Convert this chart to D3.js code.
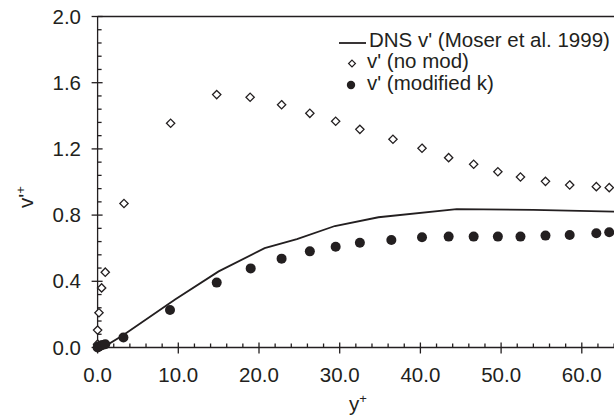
<!DOCTYPE html>
<html>
<head>
<meta charset="utf-8">
<script src="https://cdn.jsdelivr.net/npm/d3@7"></script>
<style>
  body { margin: 0; background: #fff; }
  svg { display: block; font-family: Arial, 'Liberation Sans', sans-serif; }
</style>
</head>
<body>
<svg width="614" height="420"></svg>
<script>
// DNS v' (Moser et al. 1999)
var dnsX = [0, 1.0, 3.2, 9.6, 15.0, 20.7, 24.7, 29.4, 34.8, 44.5, 54.0, 65.0];
var dnsV = [0, 0.01, 0.075, 0.29, 0.46, 0.60, 0.655, 0.734, 0.787, 0.836, 0.831, 0.82];

// v' (no mod)
var noModX = [0.0, 0.0, 0.17, 0.5, 0.95, 3.27, 9.05, 14.76, 18.9, 22.8, 26.3, 29.5, 32.5, 36.6, 40.2, 43.5, 46.6, 49.6, 52.4, 55.5, 58.5, 61.8, 63.4];
var noModV = [0.02, 0.105, 0.21, 0.36, 0.455, 0.87, 1.355, 1.528, 1.512, 1.467, 1.415, 1.367, 1.318, 1.258, 1.204, 1.147, 1.107, 1.062, 1.03, 1.004, 0.982, 0.972, 0.966];

// v' (modified k)
var modX = [0.0, 0.1, 0.3, 0.6, 0.95, 3.2, 8.97, 14.76, 18.97, 22.8, 26.3, 29.5, 32.5, 36.4, 40.2, 43.5, 46.6, 49.6, 52.4, 55.5, 58.5, 61.8, 63.4];
var modV = [0.0, 0.005, 0.01, 0.015, 0.02, 0.06, 0.227, 0.392, 0.478, 0.537, 0.581, 0.609, 0.633, 0.65, 0.666, 0.67, 0.67, 0.67, 0.67, 0.676, 0.68, 0.69, 0.696];

var xMajor = [0, 10, 20, 30, 40, 50, 60, 70];
var xLabels = [0, 10, 20, 30, 40, 50, 60];
var yMajor = [0, 0.4, 0.8, 1.2, 1.6, 2.0];

var legendLabels = ["DNS v' (Moser et al. 1999)", "v' (no mod)", "v' (modified k)"];

var ink = '#231f20';
var fontSize = 20.5;

var svg = d3.select('svg');

var x = d3.scaleLinear().domain([0, 70]).range([97.6, 662.5]);
var y = d3.scaleLinear().domain([0, 2]).range([347.5, 16.5]);
var fmt = d3.format('.1f');

// minor ticks
var xMinor = d3.range(0, 70.01, 2).filter(function(d) { return d % 10 !== 0; });
var yMinor = d3.range(0, 2.001, 0.08).filter(function(d) {
    return Math.abs(d / 0.4 - Math.round(d / 0.4)) > 1e-6;
});

var axes = svg.append('g').attr('stroke', ink).attr('stroke-width', 1.3);

// frame top + axis lines
axes.append('line')
    .attr('x1', x(0)).attr('x2', x(70))
    .attr('y1', y(2)).attr('y2', y(2));
axes.append('line')
    .attr('x1', x(0)).attr('x2', x(70))
    .attr('y1', y(0)).attr('y2', y(0));
axes.append('line')
    .attr('x1', x(0)).attr('x2', x(0))
    .attr('y1', y(0)).attr('y2', y(2));

axes.selectAll('.xmaj').data(xMajor).enter().append('line')
    .attr('x1', function(d) { return x(d); }).attr('x2', function(d) { return x(d); })
    .attr('y1', y(0) - 5).attr('y2', y(0) + 6);
axes.selectAll('.xmin').data(xMinor).enter().append('line')
    .attr('x1', function(d) { return x(d); }).attr('x2', function(d) { return x(d); })
    .attr('y1', y(0) - 4).attr('y2', y(0));
axes.selectAll('.ymaj').data(yMajor).enter().append('line')
    .attr('x1', x(0) - 6).attr('x2', x(0) + 5)
    .attr('y1', function(d) { return y(d); }).attr('y2', function(d) { return y(d); });
axes.selectAll('.ymin').data(yMinor).enter().append('line')
    .attr('x1', x(0)).attr('x2', x(0) + 4)
    .attr('y1', function(d) { return y(d); }).attr('y2', function(d) { return y(d); });

// tick labels
svg.append('g').selectAll('text').data(xLabels).enter().append('text')
    .attr('x', function(d) { return x(d); })
    .attr('y', 382)
    .attr('text-anchor', 'middle')
    .attr('font-size', fontSize)
    .attr('fill', ink)
    .text(fmt);

svg.append('g').selectAll('text').data(yMajor).enter().append('text')
    .attr('x', 81)
    .attr('y', function(d) { return y(d) + 7; })
    .attr('text-anchor', 'end')
    .attr('font-size', fontSize)
    .attr('fill', ink)
    .text(fmt);

// axis titles
var xt = svg.append('text')
    .attr('x', 358).attr('y', 411)
    .attr('text-anchor', 'middle')
    .attr('font-size', fontSize)
    .attr('fill', ink)
    .text('y');
xt.append('tspan').attr('dy', -8).attr('font-size', 13).text('+');

var yt = svg.append('text')
    .attr('transform', 'translate(33,197) rotate(-90)')
    .attr('text-anchor', 'middle')
    .attr('font-size', fontSize)
    .attr('fill', ink)
    .text("v'");
yt.append('tspan').attr('dy', -8).attr('font-size', 13).text('+');

// DNS line
var dns = dnsX.map(function(d, i) { return [d, dnsV[i]]; });
svg.append('path')
    .datum(dns)
    .attr('fill', 'none')
    .attr('stroke', ink)
    .attr('stroke-width', 1.8)
    .attr('d', d3.line()
        .x(function(d) { return x(d[0]); })
        .y(function(d) { return y(d[1]); }));

// no mod diamonds
var diamond = d3.symbol().type(d3.symbolDiamond2).size(44);
svg.append('g').selectAll('path').data(noModX).enter().append('path')
    .attr('d', diamond)
    .attr('transform', function(d, i) { return 'translate(' + x(d) + ',' + y(noModV[i]) + ')'; })
    .attr('fill', '#fff')
    .attr('stroke', ink)
    .attr('stroke-width', 1.3);

// modified k circles
svg.append('g').selectAll('circle').data(modX).enter().append('circle')
    .attr('cx', function(d) { return x(d); })
    .attr('cy', function(d, i) { return y(modV[i]); })
    .attr('r', 5)
    .attr('fill', ink);

// legend
var leg = svg.append('g').attr('font-size', fontSize).attr('fill', ink);
leg.append('line')
    .attr('x1', 339).attr('x2', 366)
    .attr('y1', 43).attr('y2', 43)
    .attr('stroke', ink).attr('stroke-width', 1.8);
leg.append('path')
    .attr('d', d3.symbol().type(d3.symbolDiamond2).size(30))
    .attr('transform', 'translate(352,63.5)')
    .attr('fill', '#fff').attr('stroke', ink).attr('stroke-width', 1.2);
leg.append('circle')
    .attr('cx', 351).attr('cy', 85).attr('r', 4.2).attr('fill', ink);
leg.selectAll('text').data(legendLabels).enter().append('text')
    .attr('x', function(d, i) { return i === 0 ? 369 : 367; })
    .attr('y', function(d, i) { return 46.7 + i * 21.5; })
    .text(function(d) { return d; });
</script>
</body>
</html>
